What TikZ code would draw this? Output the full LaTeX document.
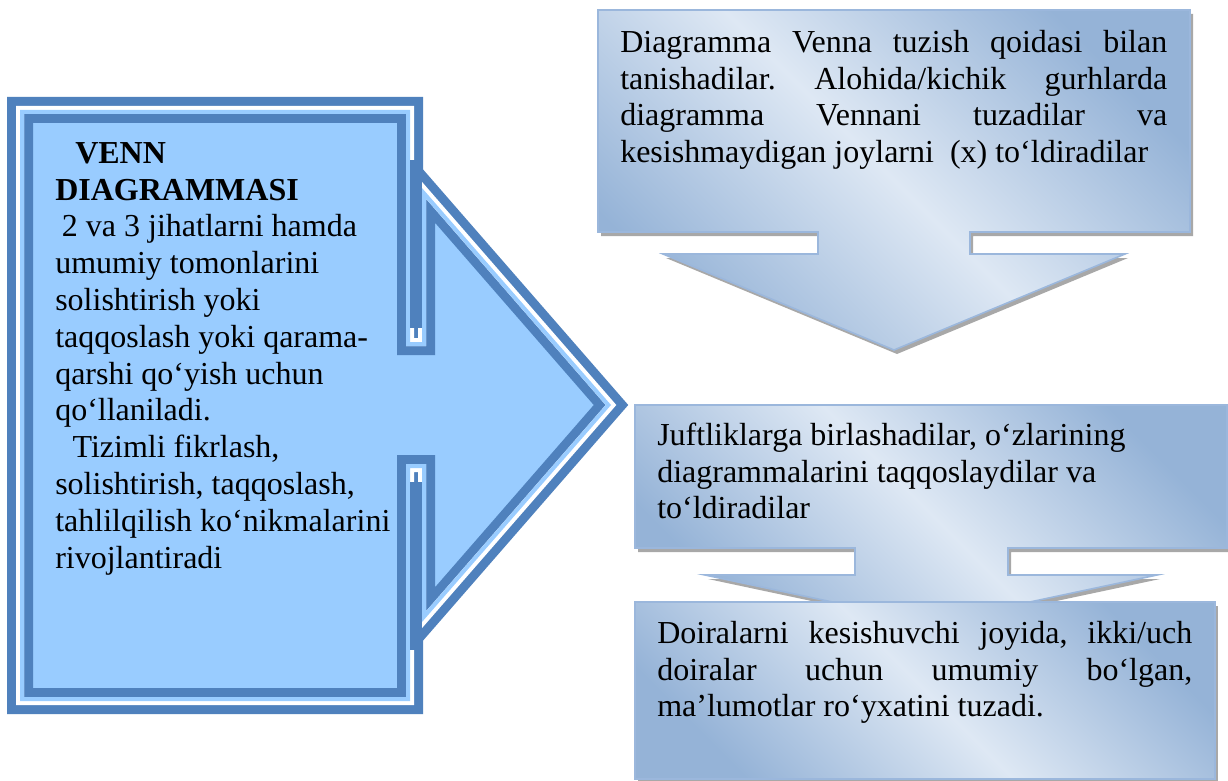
\documentclass[tikz,border=0pt]{standalone}
\usepackage{fontspec}
\setmainfont{Liberation Serif}
\frenchspacing
\definecolor{dkblue}{RGB}{79,129,189}
\definecolor{ltblue}{RGB}{153,204,255}
\definecolor{grdark}{RGB}{149,179,215}
\definecolor{grlight}{RGB}{222,232,244}
\definecolor{edgeblue}{RGB}{155,183,220}
\definecolor{shadowgray}{RGB}{168,168,168}
\newcommand\LeftShape[1]{\path[#1] (20,110) -- (410,110) -- (410,342) -- (422,342) -- (422,188) -- (611,405) -- (422,622) -- (422,468) -- (410,468) -- (410,701) -- (20,701) -- cycle;}
\newcommand\TopShape[1]{\path[#1] (598,10) -- (1190,10) -- (1190,232) -- (970,232) -- (970,254) -- (1125,254) -- (894,350) -- (663,254) -- (818,254) -- (818,232) -- (598,232) -- cycle;}
\newcommand\MidShape[1]{\path[#1] (635,405) -- (1227,405) -- (1227,548) -- (1008,548) -- (1008,575) -- (1157,575) -- (931,623) -- (705,575) -- (855,575) -- (855,548) -- (635,548) -- cycle;}
\newcommand\BotShape[1]{\path[#1] (635,602) rectangle (1215,779);}
\begin{document}
\begin{tikzpicture}[x=0.75pt,y=-0.75pt,
  txt/.style={inner sep=0pt, anchor=north west, align=left,
    font=\fontsize{24pt}{27.6pt}\selectfont},
  gradfill/.style={top color=grdark, bottom color=grdark, middle color=grlight,
    shading angle=-45},
  gradedge/.style={draw=edgeblue, line width=1.2pt},
  shadowfill/.style={fill=shadowgray, shift={(3,4)}}]
\useasboundingbox[fill=white] (0,0) rectangle (1228,781);

% left callout with double border
\LeftShape{fill=ltblue}
\LeftShape{draw=dkblue, line width=19.5pt, line join=miter}
\LeftShape{draw=white, line width=6pt, line join=miter}
\begin{scope}
  \LeftShape{clip}
  \LeftShape{draw=ltblue, line width=6pt, line join=miter}
\end{scope}
\fill[dkblue] (410,160) rectangle (422,328);
\fill[dkblue] (410,482) rectangle (422,650);

% right boxes
\TopShape{shadowfill}
\TopShape{gradfill}
\TopShape{gradedge}
\MidShape{shadowfill}
\MidShape{gradfill}
\MidShape{gradedge}
\BotShape{shadowfill}
\BotShape{gradfill}
\BotShape{gradedge}

\node[txt] (venn) at (55,131) {\rule{0pt}{24pt}\hspace{15pt}\textbf{VENN}\\
\textbf{DIAGRAMMASI}\\
\hspace{5pt}2 va 3 jihatlarni hamda\\
umumiy tomonlarini\\
solishtirish yoki\\
taqqoslash yoki qarama-\\
qarshi qo‘yish uchun\\
qo‘llaniladi.\\
\hspace{13pt}Tizimli fikrlash,\\
solishtirish, taqqoslash,\\
tahlilqilish ko‘nikmalarini\\
rivojlantiradi};

\node[txt] (step1) at (620,20) {\rule{0pt}{24pt}\makebox[410.25pt][s]{Diagramma Venna tuzish qoidasi bilan}\\
\makebox[410.25pt][s]{tanishadilar. Alohida/kichik gurhlarda}\\
\makebox[410.25pt][s]{diagramma Vennani tuzadilar va}\\
kesishmaydigan joylarni \ (x) to‘ldiradilar};

\node[txt] (step2) at (657,413) {\rule{0pt}{24pt}Juftliklarga birlashadilar, o‘zlarining\\
diagrammalarini taqqoslaydilar va\\
to‘ldiradilar};

\node[txt] (step3) at (657,611) {\rule{0pt}{24pt}\makebox[401.25pt][s]{Doiralarni kesishuvchi joyida, ikki/uch}\\
\makebox[401.25pt][s]{doiralar uchun umumiy bo‘lgan,}\\
ma’lumotlar ro‘yxatini tuzadi.};
\end{tikzpicture}
\end{document}
